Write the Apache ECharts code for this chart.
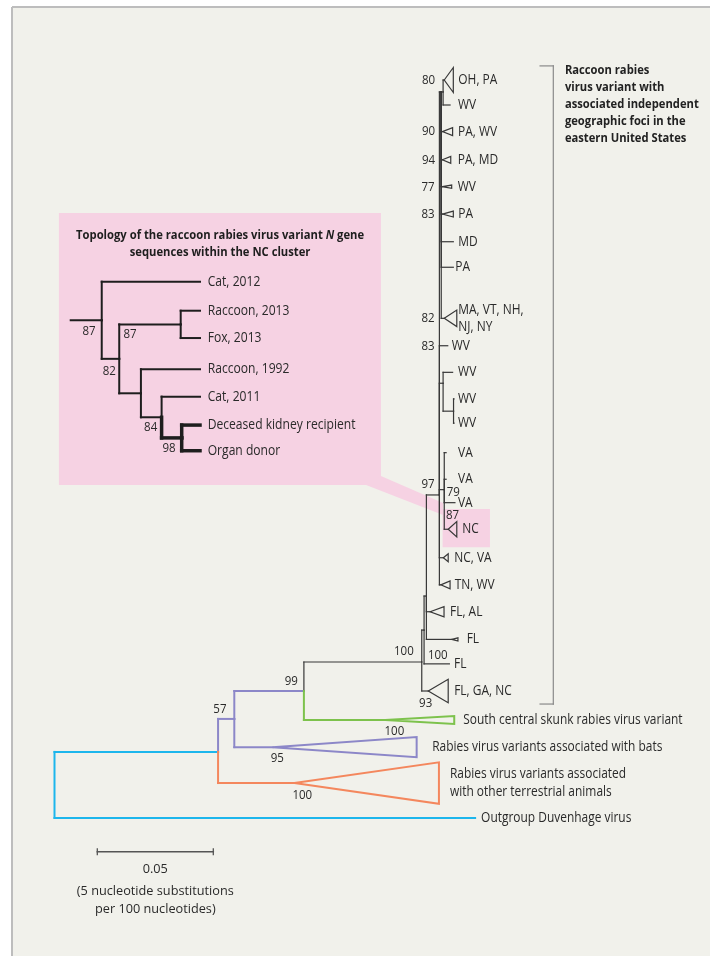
<!DOCTYPE html>
<html><head><meta charset="utf-8">
<script src="https://cdn.jsdelivr.net/npm/echarts@6/dist/echarts.min.js"></script>
<style>html,body{margin:0;padding:0;background:#fff}#c{width:710px;height:956px}</style>
</head><body><div id="c"></div>
<script>
// ---------------- DATA: main tree (x = substitutions/site from root, y = leaf row) ----------------
const tipNames = ['OH, PA','WV','PA, WV','PA, MD','WV','PA','MD','PA','MA, VT, NH,\nNJ, NY','WV','WV','WV','WV','VA','VA','VA','NC','NC, VA','TN, WV','FL, AL','FL','FL','FL, GA, NC',
  'South central skunk rabies virus variant','Rabies virus variants associated with bats','Rabies virus variants associated\nwith other terrestrial animals','Outgroup Duvenhage virus'];
const tipRows   = [0,0.94,1.94,3.0,4.01,5.04,6.08,7.04,8.96,9.99,10.99,11.99,12.9,14.01,15.01,15.89,16.89,17.96,18.98,19.99,21.03,21.95,22.97,24.06,25.08,26.43,27.74];
const tipParent = ['N80','N80','U2','U2','U2','U2','U2','U2','U2','C','WVG','PAIR','PAIR','V','V','V','V','C','C','B','B','A','R','N99','P','I','root'];
const tipApex   = [0.168,0.1705,0.1672,0.1672,0.1672,0.1672,0.1719,0.1719,0.168,0.1695,0.1716,0.1722,0.1722,0.1688,0.1688,0.1726,0.1697,0.1676,0.1665,0.1619,0.1713,0.1702,0.1611,0.1425,0.094,0.1034,0.1813];
const tipEnd    = [0.1719,0.1705,0.1716,0.1708,0.1712,0.1719,0.1719,0.1719,0.1734,0.1695,0.1716,0.1722,0.1722,0.1688,0.1688,0.1726,0.1734,0.1697,0.1705,0.1679,0.1739,0.1702,0.1697,0.1723,0.1561,0.1657,0.1813];
const tipSpread = [0.47,0,0.15,0.13,0.06,0.11,0,0,0.31,0,0,0,0,0,0,0,0.29,0.15,0.15,0.19,0.06,0,0.44,0.15,0.38,0.78,0];
const tipGroup  = ['raccoon','raccoon','raccoon','raccoon','raccoon','raccoon','raccoon','raccoon','raccoon','raccoon','raccoon','raccoon','raccoon','raccoon','raccoon','raccoon','raccoon','raccoon','raccoon','raccoon','raccoon','raccoon','raccoon','skunk','bats','other','outgroup'];

const nodeIds    = ['root','I','P','N99','R','A','B','C','U2','N80','WVG','PAIR','V'];
const nodeDist   = [0,0.0705,0.0775,0.1075,0.1583,0.1593,0.1603,0.1659,0.1667,0.1675,0.1675,0.172,0.168];
const nodeRow    = [25.26,25.26,24.02,22.97,21.88,20.68,19.4,15.6,0.45,0.45,11.4,12.45,15.4];
const nodeParent = [null,'root','I','P','N99','R','A','B','C','U2','C','WVG','C'];
const nodeGroup  = ['outgroup','outgroup','bats','bats','raccoon','raccoon','raccoon','raccoon','raccoon','raccoon','raccoon','raccoon','raccoon'];

const supportText = ['80','90','94','77','83','82','83','97','79','87','100','93','100','99','100','95','100','57'];
const supportDist = [0.1612,0.1612,0.1612,0.161,0.161,0.161,0.161,0.161,0.1719,0.1716,0.1652,0.16,0.1506,0.1021,0.1465,0.096,0.1068,0.0713];
const supportRow  = [0,1.94,3.0,4.01,5.04,8.95,9.99,15.2,15.5,16.35,21.62,23.43,21.49,22.59,24.47,25.49,26.88,23.65];

const bracketText = 'Raccoon rabies\nvirus variant with\nassociated independent\ngeographic foci in the\neastern United States';
const scaleLength = 0.05;
const scaleLabel = '0.05';
const scaleNote = '(5 nucleotide substitutions\nper 100 nucleotides)';

// ---------------- DATA: inset (NC cluster topology) ----------------
const insetTitle = 'Topology of the raccoon rabies virus variant {i|N} gene\nsequences within the NC cluster';
const insetTips   = ['Cat, 2012','Raccoon, 2013','Fox, 2013','Raccoon, 1992','Cat, 2011','Deceased kidney recipient','Organ donor'];
const insetTipRow = [0,1.03,2.0,3.11,4.08,5.09,6.0];
const insetTipParent = ['n1','rf','rf','n3','n4','n5','n5'];
const insetNodes  = ['stub','n1','n2','rf','n3','n4','n5'];
const insetNodeParent = [null,'stub','n1','n2','n2','n3','n4'];
const insetNodeDepth  = [0,1.56,2.44,5.53,3.53,4.57,5.58];
const insetTipDepth = 6.5;
const insetBold = ['n5'];
const insetSupportText = ['87','87','82','84','98'];
const insetSupportX = [0.92,2.98,1.94,4.02,4.94];
const insetSupportY = [1.74,1.86,3.17,5.17,5.91];

// ---------------- STYLE ----------------
const FONT = "'Open Sans', 'Noto Sans', sans-serif";
const TXT = '#2a2a2a';
const colors = {raccoon:'#383838', skunk:'#7dc24c', bats:'#8c87c8', other:'#f4875d', outgroup:'#1db6ec'};
const widths = {raccoon:1.2, skunk:2, bats:2, other:2, outgroup:2};
const PINK = '#f6d2e3';
const labelGap = [5,8,5.4,7,6,5,5,2,1.5,4,5.5,4,4,12,12,3,5.5,6,4.6,6,8.7,4.6,6,9,15.6,11,6];
const SZ = {tip:14, support:13.5, inset:14.5, bracket:12.8, title:11.5, scale:13.5};

// The reference typeface is a condensed sans; emulate it by horizontally condensing Open Sans.
const mctx = document.createElement('canvas').getContext('2d');
function measure(t, size, weight){ mctx.font = (weight||'normal')+' '+size+'px '+FONT; return mctx.measureText(t).width; }
function fit(samples, size, weight){ let s=0; samples.forEach(([t,w])=>s+=w/measure(t,size,weight)); return s/samples.length; }
const K = {
  tip: fit([['South central skunk rabies virus variant',220],['Rabies virus variants associated with bats',230.4],['Outgroup Duvenhage virus',149.7],['OH, PA',39]],SZ.tip),
  inset: fit([['Deceased kidney recipient',145],['Raccoon, 1992',83.3]],SZ.inset),
  bracket: fit([['associated independent',133],['Raccoon rabies',85]],SZ.bracket,'bold'),
  title: fit([['Topology of the raccoon rabies virus variant N gene',290],['sequences within the NC cluster',180]],SZ.title,'bold'),
  scale: fit([['(5 nucleotide substitutions',157]],SZ.scale)
};
K.support = K.tip;

// ---------------- build tree index ----------------
const nodes = {};
nodeIds.forEach((id,i)=>{nodes[id]={dist:nodeDist[i],row:nodeRow[i],parent:nodeParent[i],group:nodeGroup[i]};});

function textEl(x,y,t,cls,style){
  return {type:'text',x:x,y:y,scaleX:K[cls],scaleY:1,
    style:Object.assign({text:t,fill:TXT,fontFamily:FONT,fontSize:SZ[cls],align:'center',verticalAlign:'middle'},style||{})};
}

function mainRender(params, api){
  const P = (x,y)=>api.coord([x,y]);
  const kids = [];
  const line=(x1,y1,x2,y2,color,w)=>{const a=P(x1,y1),b=P(x2,y2);
    kids.push({type:'line',shape:{x1:a[0],y1:a[1],x2:b[0],y2:b[1]},style:{stroke:color,lineWidth:w,lineCap:'square'}});};
  const poly=(pts,fill,stroke,w)=>{kids.push({type:'polygon',shape:{points:pts.map(p=>P(p[0],p[1]))},style:{fill:fill||'none',stroke:stroke||null,lineWidth:w||0,lineJoin:'miter'}});};
  const text=(x,y,t,cls,style,dx)=>{const p=P(x,y);kids.push(textEl(p[0]+(dx||0),p[1],t,cls,style));};

  // inset panel, connector and NC highlight
  poly([[0.0019,5.0],[0.1407,5.0],[0.1407,15.23],[0.0019,15.23]],PINK);
  poly([[0.1343,15.23],[0.1407,14.89],[0.1675,15.9],[0.1675,16.35]],PINK);
  poly([[0.1673,16.13],[0.1877,16.13],[0.1877,17.57],[0.1673,17.57]],PINK);

  // internal branches
  nodeIds.forEach(id=>{const n=nodes[id]; if(!n.parent) return; const p=nodes[n.parent];
    const c=colors[n.group], w=widths[n.group];
    line(p.dist,p.row,p.dist,n.row,c,w);
    line(p.dist,n.row,n.dist,n.row,c,w);
  });
  // tips
  tipNames.forEach((name,i)=>{const p=nodes[tipParent[i]]; const g=tipGroup[i]; const c=colors[g], w=widths[g]; const r=tipRows[i];
    line(p.dist,p.row,p.dist,r,c,w);
    line(p.dist,r,tipApex[i],r,c,w);
    if(tipSpread[i]>0){poly([[tipApex[i],r],[tipEnd[i],r-tipSpread[i]],[tipEnd[i],r+tipSpread[i]]],'none',c,w);}
    const lines=name.split('\n').length;
    text(tipEnd[i],r,name,'tip',{align:'left',lineHeight:lines>1?17.5:16},labelGap[i]);
  });
  // support values
  supportText.forEach((t,i)=>text(supportDist[i],supportRow[i],t,'support'));
  // bracket
  const bc='#8a8a8a';
  line(0.2093,-0.53,0.215,-0.53,bc,1.2); line(0.215,-0.53,0.215,23.46,bc,1.2); line(0.2093,23.46,0.215,23.46,bc,1.2);
  text(0.22,0.91,bracketText,'bracket',{align:'left',fontWeight:'bold',lineHeight:17.1,fill:'#222'});
  // scale bar
  const sx=0.01845, sr=29.01;
  line(sx,sr,sx+scaleLength,sr,'#555',1.5);
  const a=P(sx,sr), b=P(sx+scaleLength,sr);
  kids.push({type:'line',shape:{x1:a[0],y1:a[1]-3.5,x2:a[0],y2:a[1]+3.5},style:{stroke:'#555',lineWidth:1.3}});
  kids.push({type:'line',shape:{x1:b[0],y1:b[1]-3.5,x2:b[0],y2:b[1]+3.5},style:{stroke:'#555',lineWidth:1.3}});
  text(sx+scaleLength/2,29.66,scaleLabel,'scale');
  text(sx+scaleLength/2,30.82,scaleNote,'scale',{lineHeight:18.3});
  return {type:'group',children:kids};
}

// inset: rows of internal nodes are the midpoint of their children
const insetChildren = {};
insetNodes.forEach(id=>insetChildren[id]=[]);
insetNodeParent.forEach((p,i)=>{if(p) insetChildren[p].push({type:'node',id:insetNodes[i]});});
insetTipParent.forEach((p,i)=>insetChildren[p].push({type:'tip',i}));
function insetRow(id){const ch=insetChildren[id]; const rows=ch.map(c=>c.type==='tip'?insetTipRow[c.i]:insetRow(c.id)); return (Math.min(...rows)+Math.max(...rows))/2;}

function insetRender(params, api){
  const P=(x,y)=>api.coord([x,y]);
  const kids=[];
  const line=(x1,y1,x2,y2,w)=>{const a=P(x1,y1),b=P(x2,y2);kids.push({type:'line',shape:{x1:a[0],y1:a[1],x2:b[0],y2:b[1]},style:{stroke:'#1e1e1e',lineWidth:w,lineCap:'square'}});};
  const depth={}; insetNodes.forEach((id,i)=>depth[id]=insetNodeDepth[i]);
  insetNodes.forEach((id,i)=>{const p=insetNodeParent[i]; if(!p) return; const r=insetRow(id); const w=insetBold.includes(id)?3.5:2;
    const pr=p==='stub'?r:insetRow(p);
    const px=p==='stub'?0:depth[p];
    if(p!=='stub') line(px,pr,px,r,w);
    line(px,r,depth[id],r,w);
  });
  insetTips.forEach((t,i)=>{const p=insetTipParent[i]; const pr=insetRow(p); const w=insetBold.includes(p)?3.5:2;
    line(depth[p],pr,depth[p],insetTipRow[i],w);
    line(depth[p],insetTipRow[i],insetTipDepth,insetTipRow[i],w);
    const q=P(insetTipDepth,insetTipRow[i]);
    kids.push(textEl(q[0]+7.7,q[1],t,'inset',{align:'left'}));
  });
  insetSupportText.forEach((t,i)=>{const q=P(insetSupportX[i],insetSupportY[i]);
    kids.push(textEl(q[0],q[1],t,'support'));});
  const tq=P(7.51,-1.33);
  kids.push(textEl(tq[0],tq[1],insetTitle,'title',{fill:'#1e1e1e',fontWeight:'bold',lineHeight:16.7,
    rich:{i:{fontStyle:'italic',fontWeight:'bold',fontFamily:FONT,fontSize:SZ.title,fill:'#1e1e1e'}}}));
  return {type:'group',children:kids};
}

const chart = echarts.init(document.getElementById('c'), null, {renderer:'canvas'});
chart.setOption({
  backgroundColor:'#ffffff',
  animation:false,
  graphic:[
    {type:'rect',shape:{x:12,y:7,width:698,height:949},style:{fill:'#f1f1eb'},z:-10},
    {type:'line',shape:{x1:12,y1:7,x2:12,y2:956},style:{stroke:'#bdbdbd',lineWidth:2},z:-9},
    {type:'line',shape:{x1:12,y1:7,x2:710,y2:7},style:{stroke:'#bdbdbd',lineWidth:2},z:-9}
  ],
  grid:[
    {left:54.5,top:13.5,width:649.6,height:931},
    {left:70.7,top:281.7,width:129.3,height:169.02}
  ],
  xAxis:[
    {type:'value',gridIndex:0,min:0,max:0.28,show:false},
    {type:'value',gridIndex:1,min:0,max:6.5,show:false}
  ],
  yAxis:[
    {type:'value',gridIndex:0,min:-2.5,max:32.5,inverse:true,show:false},
    {type:'value',gridIndex:1,min:0,max:6,inverse:true,show:false}
  ],
  series:[
    {type:'custom',xAxisIndex:0,yAxisIndex:0,data:[[0,0]],renderItem:mainRender,clip:false,silent:true,z:2},
    {type:'custom',xAxisIndex:1,yAxisIndex:1,data:[[0,0]],renderItem:insetRender,clip:false,silent:true,z:3}
  ]
});
</script></body></html>
